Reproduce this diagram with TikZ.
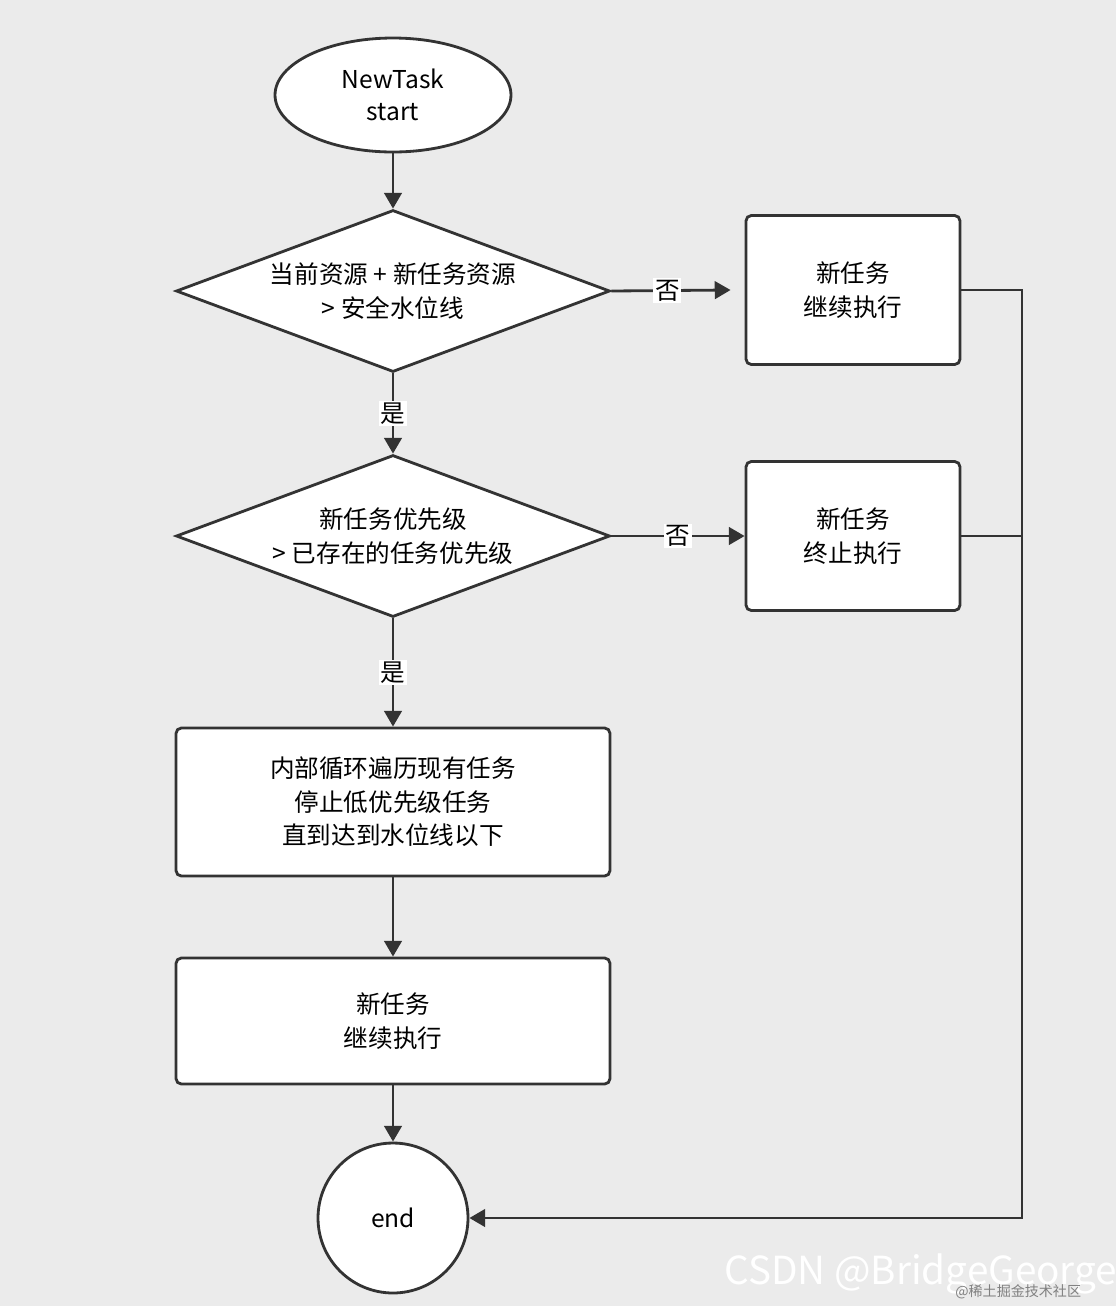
\documentclass[tikz,border=0pt]{standalone}
\usepackage{fontspec}
\setmainfont{Noto Sans CJK SC}
\usetikzlibrary{arrows.meta}
\usetikzlibrary{shapes.geometric}
\definecolor{bg}{HTML}{EBEBEB}
\definecolor{ink}{HTML}{333333}
\tikzset{
  box/.style={draw=ink, line width=1.6pt, fill=white, rounded corners=3pt,
              minimum width=8.68cm, align=center, font=\fontsize{14}{19}\selectfont},
  sidebox/.style={box, minimum width=4.28cm, minimum height=2.98cm},
  decision/.style={draw=ink, line width=1.6pt, fill=white, diamond, inner sep=0pt,
              shape aspect=2.68, minimum width=8.68cm, minimum height=3.24cm, align=center,
              font=\fontsize{14}{19}\selectfont},
  flow/.style={draw=ink, line width=1.6pt, -{Triangle[length=9pt,width=10pt]}},
  tag/.style={fill=white, inner sep=1pt, font=\fontsize{14}{16}\selectfont}
}
\begin{document}
\begin{tikzpicture}[x=0.02cm, y=-0.02cm]
  \fill[bg] (0,0) rectangle (1116,1306);
  \useasboundingbox (0,0) rectangle (1116,1306);
  \node[ellipse, draw=ink, line width=1.6pt, fill=white, minimum width=4.72cm,
        minimum height=2.28cm, align=center, font=\fontsize{14}{18}\selectfont]
        (start) at (393,95) {NewTask\\start};
  \node[decision] (check) at (393,291) {当前资源 + 新任务资源\\> 安全水位线};
  \node[decision] (prio) at (393,536) {新任务优先级\\> 已存在的任务优先级};
  \node[sidebox] (goon) at (853,290) {新任务\\继续执行};
  \node[sidebox] (stop) at (853,536) {新任务\\终止执行};
  \node[box, minimum height=2.96cm] (loop) at (393,802) {内部循环遍历现有任务\\停止低优先级任务\\直到达到水位线以下};
  \node[box, minimum height=2.52cm] (resume) at (393,1021) {新任务\\继续执行};
  \node[circle, draw=ink, line width=1.6pt, fill=white, minimum size=3cm,
        font=\fontsize{14}{18}\selectfont] (end) at (393,1218) {end};
  \coordinate (top) at (1022,290);
  \coordinate (mid) at (1022,536);
  \coordinate (bot) at (1022,1218);
  % main path
  \draw[flow] (start) -- (check);
  \draw[flow] (check) -- node[tag] {是} (prio);
  \draw[flow] (prio) -- node[tag] {是} (loop);
  \draw[flow] (loop) -- (resume);
  \draw[flow] (resume) -- (end);
  % side branches
  \draw[flow] (check.east) -- node[tag, pos=0.47] {否} ([xshift=-8]goon.west);
  \draw[flow] (prio.east) -- node[tag, pos=0.5] {否} (stop.west);
  \draw[ink, line width=1.6pt] (goon.east) -- (top) -- (mid);
  \draw[ink, line width=1.6pt] (stop.east) -- (mid);
  \draw[flow] (mid) -- (bot) -- (end.east);
  % watermark
  \node[text=white, anchor=west, inner sep=0pt, font=\fontsize{22}{22}\selectfont] (mark) at (724,1274) {CSDN @BridgeGeorge};
  \node[text=gray, anchor=west, inner sep=0pt, font=\fontsize{8}{8}\selectfont] (mark2) at (955,1292) {@稀土掘金技术社区};
\end{tikzpicture}
\end{document}
